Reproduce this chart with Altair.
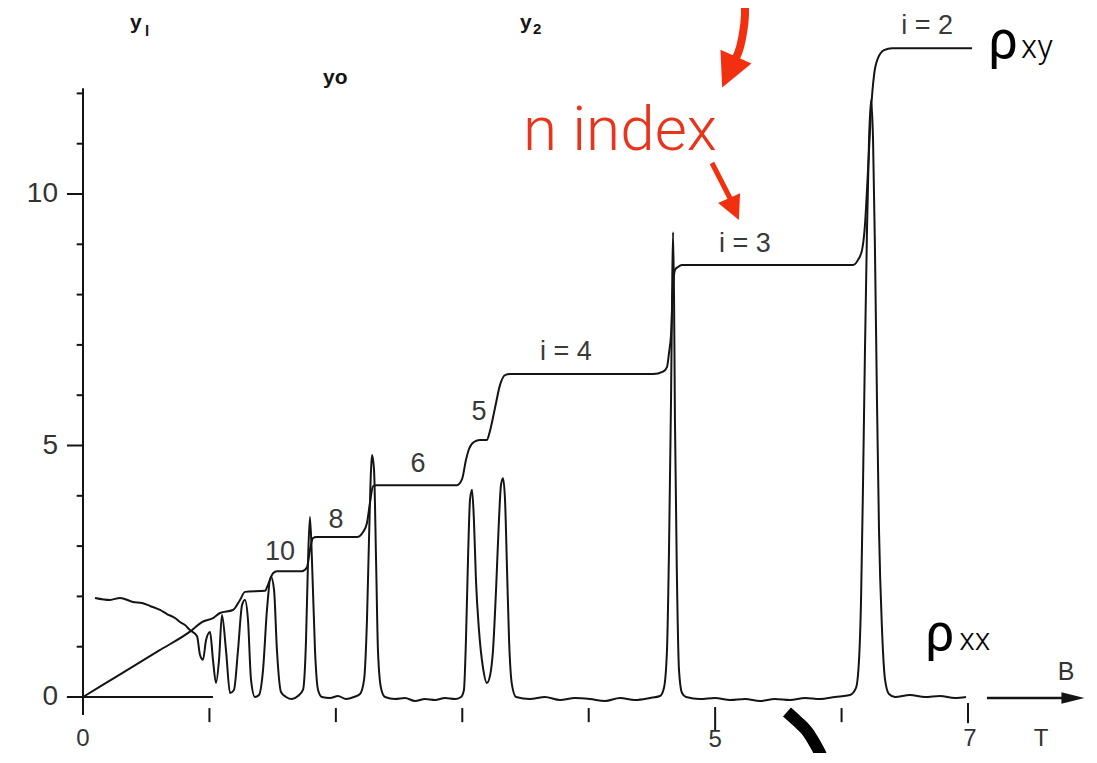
import altair as alt
import pandas as pd

# ---------------- data (B in tesla, resistivity in kOhm) ----------------
RXY_B = [0.0, 0.300, 0.600, 0.862, 0.941, 1.028, 1.084, 1.186, 1.242, 1.281, 1.440, 1.463, 1.503, 1.534,
         1.732, 1.772, 1.795, 1.819, 1.845, 2.167, 2.215, 2.246, 2.270, 2.294, 2.320,
         2.958, 2.998, 3.029, 3.053, 3.092, 3.140, 3.195, 3.219, 3.259, 3.298, 3.338, 3.377,
         4.509, 4.588, 4.619, 4.635, 4.651, 4.667, 4.682, 4.706, 4.738,
         6.090, 6.130, 6.162, 6.185, 6.201, 6.217, 6.233, 6.257, 6.288, 6.336, 6.399, 7.032]
RXY_V = [0.0, 0.46, 0.92, 1.33, 1.49, 1.57, 1.67, 1.73, 1.93, 2.09, 2.11, 2.23, 2.46, 2.50,
         2.50, 2.58, 2.92, 3.16, 3.18, 3.18, 3.28, 3.46, 3.86, 4.19, 4.21,
         4.21, 4.33, 4.71, 4.93, 5.07, 5.11, 5.11, 5.29, 5.75, 6.20, 6.40, 6.42,
         6.42, 6.47, 6.56, 6.84, 7.20, 8.15, 8.49, 8.55, 8.59,
         8.59, 8.69, 8.89, 9.38, 10.08, 10.87, 11.67, 12.37, 12.70, 12.86, 12.90, 12.90]

RXX_B = [0.095, 0.214, 0.293, 0.395, 0.467, 0.530, 0.609, 0.664, 0.728, 0.767, 0.807, 0.846,
         0.902, 0.925, 0.949, 0.973, 1.005, 1.028, 1.052, 1.076, 1.099, 1.131, 1.163,
         1.194, 1.226, 1.258, 1.281, 1.305, 1.329, 1.360, 1.392, 1.424, 1.455, 1.487,
         1.511, 1.534, 1.566, 1.606, 1.653, 1.700, 1.740, 1.764, 1.780, 1.795, 1.811,
         1.835, 1.859, 1.890, 1.954, 2.017, 2.080, 2.143, 2.191, 2.223, 2.246, 2.262,
         2.278, 2.286, 2.302, 2.318, 2.333, 2.357, 2.389, 2.468, 2.547, 2.626, 2.705,
         2.784, 2.863, 2.942, 2.990, 3.013, 3.029, 3.045, 3.061, 3.077, 3.092, 3.108,
         3.132, 3.164, 3.195, 3.219, 3.243, 3.267, 3.290, 3.306, 3.322, 3.338, 3.354,
         3.370, 3.393, 3.425, 3.535, 3.654, 3.773, 3.891, 4.010, 4.129, 4.247, 4.366,
         4.485, 4.564, 4.595, 4.619, 4.635, 4.651, 4.659, 4.667, 4.675, 4.682, 4.698,
         4.714, 4.738, 4.770, 4.880, 4.999, 5.118, 5.236, 5.355, 5.473, 5.592, 5.711,
         5.829, 5.948, 6.067, 6.114, 6.138, 6.154, 6.170, 6.185, 6.201, 6.217, 6.233,
         6.249, 6.264, 6.280, 6.296, 6.320, 6.344, 6.375, 6.423, 6.541, 6.660, 6.778,
         6.897, 6.984]
RXX_V = [1.97, 1.93, 1.97, 1.89, 1.87, 1.81, 1.73, 1.65, 1.57, 1.49, 1.43, 1.33,
         1.21, 0.84, 0.74, 1.13, 1.29, 0.74, 0.28, 0.74, 1.63, 0.93, 0.08,
         0.14, 0.93, 1.83, 1.93, 1.53, 0.34, 0.00, 0.04, 0.54, 1.73, 2.39,
         2.13, 0.93, 0.10, 0.00, -0.04, 0.02, 0.14, 1.13, 2.72, 3.58, 2.72,
         0.93, 0.14, 0.00, -0.02, 0.02, -0.04, 0.00, 0.06, 0.34, 1.53, 3.12,
         4.51, 4.81, 4.51, 2.72, 0.93, 0.18, 0.00, -0.04, -0.02, -0.08, -0.04,
         -0.06, -0.02, -0.04, 0.00, 0.14, 1.13, 2.72, 3.92, 4.12, 3.52, 2.33,
         1.33, 0.58, 0.28, 0.42, 0.93, 2.13, 3.52, 4.21, 4.35, 3.92, 2.52,
         1.13, 0.24, 0.00, -0.04, 0.00, -0.06, -0.02, -0.04, -0.08, -0.02, -0.06,
         -0.02, 0.02, 0.18, 0.93, 2.92, 5.90, 7.89, 9.24, 7.89, 5.51, 2.33,
         0.54, 0.08, 0.00, -0.04, -0.02, -0.06, -0.04, -0.08, -0.04, -0.06, -0.02,
         -0.04, 0.00, 0.04, 0.18, 0.74, 1.93, 4.31, 6.90, 9.28, 11.07, 11.87,
         11.07, 8.89, 5.90, 3.32, 1.33, 0.34, 0.06, 0.00, 0.04, 0.00, 0.02,
         -0.02, 0.00]

Y_MAJOR = [0, 5, 10]
Y_MINOR = [1, 2, 3, 4, 6, 7, 8, 9, 11, 12]
Y_LABELS = ["0", "5", "10"]
X_TICKS = [1, 2, 3, 4, 6]
X_LONG_TICKS = [5, 7]
PLATEAU_LABELS = ["i = 2", "i = 3", "i = 4", "5", "6", "8", "10"]

# ---------------- layout helpers ----------------
W, H = 1079, 745
PX_PER_T = 126.43
PX_PER_K = 50.3
ORIGIN_X = 75
ORIGIN_Y = 689
xs = alt.Scale(domain=[-ORIGIN_X / PX_PER_T, (W - ORIGIN_X) / PX_PER_T], nice=False, zero=False)
ys = alt.Scale(domain=[-(H - ORIGIN_Y) / PX_PER_K, ORIGIN_Y / PX_PER_K], nice=False, zero=False)


def X(f="x"):
    return alt.X(f, type="quantitative", scale=xs, axis=None)


def Y(f="y"):
    return alt.Y(f, type="quantitative", scale=ys, axis=None)


BLACK = "#141414"
RED = "#f2300f"
TXT = "#333333"

# ---------------- traces ----------------
rows = []
for i, (b, v) in enumerate(zip(RXY_B, RXY_V)):
    rows.append({"series": "rho_xy", "x": b, "y": v, "o": i})
for i, (b, v) in enumerate(zip(RXX_B, RXX_V)):
    rows.append({"series": "rho_xx", "x": b, "y": v, "o": i})
traces = pd.DataFrame(rows)

curves = alt.Chart(traces).mark_line(color=BLACK, strokeWidth=2, interpolate="monotone").encode(
    x=X(), y=Y(), detail="series:N", order="o:Q"
)

# ---------------- hand-drawn style axes ----------------
yaxis = alt.Chart(pd.DataFrame([{"x": 0, "y": -0.36, "y2": 12.1}])).mark_rule(
    color=BLACK, strokeWidth=2).encode(x=X(), y=Y(), y2="y2")
xaxis = alt.Chart(pd.DataFrame([{"x": -0.127, "x2": 1.028, "y": 0}])).mark_rule(
    color=BLACK, strokeWidth=2).encode(x=X(), x2="x2", y=Y())
ymaj = alt.Chart(pd.DataFrame({"y": Y_MAJOR, "x": -0.127, "x2": 0})).mark_rule(
    color=BLACK, strokeWidth=2).encode(x=X(), x2="x2", y=Y())
ymin = alt.Chart(pd.DataFrame({"y": Y_MINOR, "x": -0.05, "x2": 0})).mark_rule(
    color=BLACK, strokeWidth=2).encode(x=X(), x2="x2", y=Y())
xt = alt.Chart(pd.DataFrame({"x": X_TICKS, "y": -0.22, "y2": -0.5})).mark_rule(
    color=BLACK, strokeWidth=2).encode(x=X(), y=Y(), y2="y2")
xtl = alt.Chart(pd.DataFrame({"x": X_LONG_TICKS, "y": [-0.2, -0.12], "y2": [-0.66, -0.52]})).mark_rule(
    color=BLACK, strokeWidth=2).encode(x=X(), y=Y(), y2="y2")

ylab = alt.Chart(pd.DataFrame({"y": Y_MAJOR, "t": Y_LABELS, "x": -0.198})).mark_text(
    align="right", baseline="middle", fontSize=28, font="Liberation Sans", color=TXT
).encode(x=X(), y=Y(), text="t:N")

xlab = alt.Chart(pd.DataFrame({"t": ["0", "5", "7", "T"],
                               "x": [0.0, 5.0, 7.016, 7.577],
                               "y": [-0.84, -0.86, -0.84, -0.84]})).mark_text(
    align="center", baseline="middle", fontSize=24, font="Liberation Sans", color=TXT
).encode(x=X(), y=Y(), text="t:N")
blab = alt.Chart(pd.DataFrame({"t": ["B"], "x": [7.775], "y": [0.497]})).mark_text(
    align="center", baseline="middle", fontSize=25, font="Liberation Sans", color=TXT
).encode(x=X(), y=Y(), text="t:N")

barrow = alt.Chart(pd.DataFrame([{"x": 7.15, "x2": 7.80, "y": -0.02}])).mark_rule(
    color=BLACK, strokeWidth=2.5).encode(x=X(), x2="x2", y=Y())
barrow_head = alt.Chart(pd.DataFrame([{"x": 7.830, "y": -0.02}])).mark_point(
    shape="M1,0L-1,-0.5L-1,0.5Z", filled=True, size=529, color=BLACK, opacity=1, strokeWidth=0
).encode(x=X(), y=Y())

# ---------------- plateau labels ----------------
plab = alt.Chart(pd.DataFrame({"t": PLATEAU_LABELS,
                               "x": [6.676, 5.236, 3.820, 3.132, 2.650, 2.001, 1.558],
                               "y": [13.18, 8.847, 6.70, 5.507, 4.473, 3.360, 2.724]})).mark_text(
    align="center", baseline="alphabetic", fontSize=27, font="Liberation Sans", color="#3a3a3a"
).encode(x=X(), y=Y(), text="t:N")

# ---------------- y1 / y2 / yo scan labels ----------------
ybig = alt.Chart(pd.DataFrame({"t": ["y", "y", "yo"], "x": [0.372, 3.456, 1.898],
                               "y": [13.28, 13.28, 12.19]})).mark_text(
    align="left", baseline="alphabetic", fontSize=21, font="Liberation Sans", fontWeight="bold",
    color=BLACK).encode(x=X(), y=Y(), text="t:N")
ysub = alt.Chart(pd.DataFrame({"t": ["l", "2"], "x": [0.490, 3.560], "y": [13.14, 13.18]})).mark_text(
    align="left", baseline="alphabetic", fontSize=15, font="Liberation Sans", fontWeight="bold",
    color=BLACK).encode(x=X(), y=Y(), text="t:N")

# ---------------- rho labels ----------------
rho = alt.Chart(pd.DataFrame({"t": ["ρ", "ρ"], "x": [7.158, 6.660], "y": [12.70, 0.934],
                              "s": [53, 52]})).mark_text(
    align="left", baseline="alphabetic", font="Roboto", fontWeight=400, color="#000000"
).encode(x=X(), y=Y(), text="t:N", size=alt.Size("s:Q", scale=None, legend=None))
rhosub = alt.Chart(pd.DataFrame({"t": ["xy", "xx"], "x": [7.420, 6.930], "y": [12.70, 0.934],
                                 "s": [33, 32]})).mark_text(
    align="left", baseline="alphabetic", font="Roboto", fontWeight=300, color="#000000"
).encode(x=X(), y=Y(), text="t:N", size=alt.Size("s:Q", scale=None, legend=None))

# ---------------- red annotation ----------------
ntext = alt.Chart(pd.DataFrame([{"t": "n index", "x": 3.480, "y": 10.875}])).mark_text(
    align="left", baseline="alphabetic", fontSize=62, font="Roboto", fontWeight=300, color="#e8341c"
).encode(x=X(), y=Y(), text="t:N")

shaft1 = alt.Chart(pd.DataFrame({"x": [5.236, 5.236, 5.220, 5.197, 5.165],
                                 "y": [13.936, 13.559, 13.201, 12.922, 12.704],
                                 "o": [0, 1, 2, 3, 4]})).mark_line(
    color=RED, strokeWidth=8, interpolate="monotone").encode(x=X(), y=Y(), order="o:Q")
shaft2 = alt.Chart(pd.DataFrame({"x": [4.975, 5.125], "y": [10.616, 9.881], "o": [0, 1]})).mark_line(
    color=RED, strokeWidth=5).encode(x=X(), y=Y(), order="o:Q")
head1 = alt.Chart(pd.DataFrame([{"x": 5.110, "y": 12.425}])).mark_point(
    shape="M0,-1L1,1L-1,1Z", filled=True, size=1150, angle=204, color=RED, opacity=1, strokeWidth=0
).encode(x=X(), y=Y())
head2 = alt.Chart(pd.DataFrame([{"x": 5.149, "y": 9.702}])).mark_point(
    shape="M0,-1L1,1L-1,1Z", filled=True, size=576, angle=156, color=RED, opacity=1, strokeWidth=0
).encode(x=X(), y=Y())

# ---------------- black arc at bottom ----------------
arc = alt.Chart(pd.DataFrame({"x": [5.568, 5.647, 5.726, 5.782, 5.829, 5.869],
                              "y": [-0.298, -0.477, -0.676, -0.895, -1.113, -1.372],
                              "o": [0, 1, 2, 3, 4, 5]})).mark_line(
    color="#000000", strokeWidth=12, interpolate="monotone", strokeCap="butt"
).encode(x=X(), y=Y(), order="o:Q")

chart = alt.layer(
    yaxis, xaxis, ymaj, ymin, xt, xtl, ylab, xlab, blab, barrow, barrow_head,
    curves, plab, ybig, ysub, rho, rhosub, ntext, shaft1, shaft2, head1, head2, arc
).properties(
    width=W, height=H, padding=0, autosize=alt.AutoSizeParams(type="none"), background="white"
).configure_view(stroke=None)

chart.save("out.html", embed_options={"renderer": "svg", "actions": False})
